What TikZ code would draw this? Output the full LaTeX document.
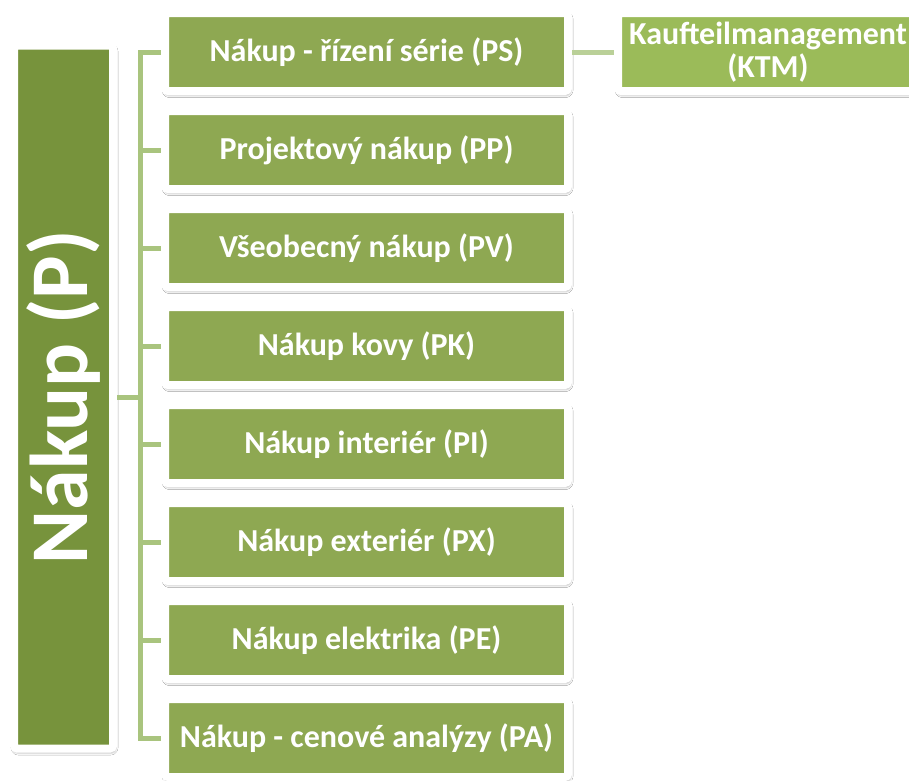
\documentclass[tikz,border=0pt]{standalone}
\usepackage{fontspec}
\setmainfont{Carlito}
\usetikzlibrary{shadows.blur}
\definecolor{dgreen}{HTML}{77933C}
\definecolor{mgreen}{HTML}{8EA852}
\definecolor{lgreen}{HTML}{9BBB59}
\definecolor{cgreen}{HTML}{A9C47E}
\begin{document}
\begin{tikzpicture}[x=1pt,y=-1pt,
  frame/.style={rectangle, draw=white, line width=8pt, rounded corners=3pt, text=white,
    font=\bfseries\fontsize{32}{34}\selectfont, align=center, inner sep=0pt,
    blur shadow={shadow xshift=1pt, shadow yshift=-2.5pt, shadow blur radius=4pt, shadow opacity=65}},
  child/.style={frame, fill=mgreen, minimum width=403pt, minimum height=78pt},
  conn/.style={draw=cgreen, line width=5pt}]
\clip (0,0) rectangle (909,780);
\fill[white] (0,0) rectangle (909,780);
\node[frame, fill=dgreen, minimum width=99pt, minimum height=703pt] (L) at (63.5,397)
  {\rotatebox{90}{\fontsize{82}{86}\selectfont Nákup (P)}};
\coordinate (trunk) at (140,395);
\node[child] (c1) at (366.5,52) {Nákup - řízení série (PS)};
\node[child] (c2) at (366.5,150) {Projektový nákup (PP)};
\node[child] (c3) at (366.5,248) {Všeobecný nákup (PV)};
\node[child] (c4) at (366.5,346) {Nákup kovy (PK)};
\node[child] (c5) at (366.5,444) {Nákup interiér (PI)};
\node[child] (c6) at (366.5,542) {Nákup exteriér (PX)};
\node[child] (c7) at (366.5,640) {Nákup elektrika (PE)};
\node[child] (c8) at (366.5,738) {Nákup - cenové analýzy (PA)};
\node[frame, fill=lgreen, minimum width=300pt, minimum height=78pt,
  font=\bfseries\fontsize{32}{33}\selectfont] (k) at (768,52) {Kaufteilmanagement\\(KTM)};
\foreach \c in {c1,c2,c3,c4,c5,c6,c7,c8}
  \draw[conn] (L.east) -- (L.east -| trunk) |- (\c.west);
\draw[conn, draw=cgreen!80] (c1.east) -- (k.west);
\end{tikzpicture}
\end{document}
